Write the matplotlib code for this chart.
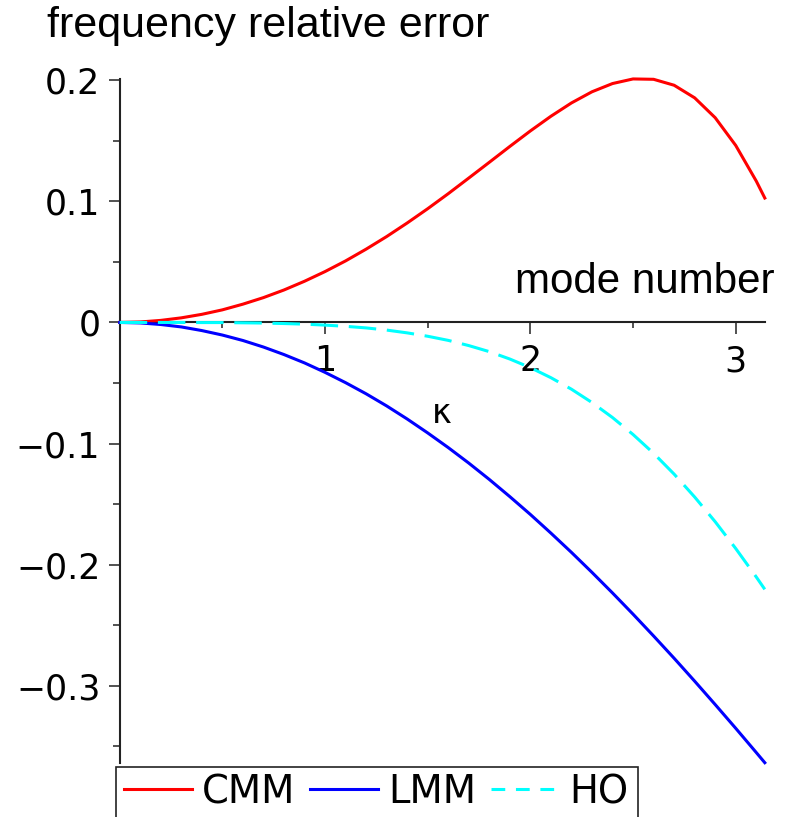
import numpy as np
import matplotlib
matplotlib.use("Agg")
import matplotlib.pyplot as plt
from matplotlib.lines import Line2D
from matplotlib.patches import Rectangle

# ---- data ----
kappa = [0.0, 0.1, 0.2, 0.3, 0.4, 0.5, 0.6, 0.7, 0.8, 0.9, 1.0, 1.1, 1.2, 1.3,
         1.4, 1.5, 1.6, 1.7, 1.8, 1.9, 2.0, 2.1, 2.2, 2.3, 2.4, 2.5, 2.6, 2.7,
         2.8, 2.9, 3.0, 3.1, 3.1416]
cmm = [0.0, 0.0004, 0.0017, 0.0038, 0.0067, 0.0104, 0.0151, 0.0205, 0.0268,
       0.0340, 0.0420, 0.0508, 0.0605, 0.0709, 0.0821, 0.0939, 0.1063, 0.1192,
       0.1322, 0.1453, 0.1581, 0.1702, 0.1812, 0.1904, 0.1972, 0.2010, 0.2007,
       0.1958, 0.1854, 0.1690, 0.1461, 0.1167, 0.1027]
lmm = [0.0, -0.0004, -0.0017, -0.0037, -0.0067, -0.0104, -0.0149, -0.0203,
       -0.0265, -0.0334, -0.0412, -0.0497, -0.0589, -0.0689, -0.0797, -0.0912,
       -0.1033, -0.1161, -0.1296, -0.1438, -0.1585, -0.1739, -0.1898, -0.2063,
       -0.2233, -0.2408, -0.2588, -0.2772, -0.2961, -0.3154, -0.3350, -0.3550,
       -0.3634]
ho = [0.0, 0.0, 0.0, 0.0, -0.0001, -0.0001, -0.0003, -0.0005, -0.0009,
      -0.0014, -0.0022, -0.0032, -0.0045, -0.0063, -0.0086, -0.0114, -0.0148,
      -0.0191, -0.0241, -0.0302, -0.0373, -0.0456, -0.0551, -0.0661, -0.0785,
      -0.0925, -0.1080, -0.1252, -0.1441, -0.1645, -0.1866, -0.2101, -0.2203]
series_names = ["CMM", "LMM", "HO"]
x_major = [1, 2, 3]
x_minor = [0.5, 1.5, 2.5]
y_major = [-0.3, -0.2, -0.1, 0.0, 0.1, 0.2]
y_major_labels = ["\u22120.3", "\u22120.2", "\u22120.1", "0", "0.1", "0.2"]
y_minor = [-0.35, -0.25, -0.15, -0.05, 0.05, 0.15]

W, H = 790, 817
fig = plt.figure(figsize=(W / 100, H / 100), dpi=100)
ax = fig.add_axes([119.7 / W, 1 - 762.7 / H, (764.8 - 119.7) / W, (762.7 - 78.7) / H])

lw = 2.2
ax.plot(kappa, cmm, color="#ff0000", lw=lw, clip_on=False, zorder=3)
ax.plot(kappa, lmm, color="#0000ff", lw=lw, clip_on=False, zorder=3)
ax.plot(kappa, ho, color="#00ffff", lw=lw, dashes=(9, 3.5), clip_on=False, zorder=3)

ax.set_xlim(0, np.pi)
ax.set_ylim(-0.3634, 0.2012)

for s in ["top", "right"]:
    ax.spines[s].set_visible(False)
ax.spines["left"].set_position(("data", 0))
ax.spines["bottom"].set_position(("data", 0))
for s in ["left", "bottom"]:
    ax.spines[s].set_color("#222222")
    ax.spines[s].set_linewidth(1.5)

ax.set_xticks(x_major)
ax.set_xticks(x_minor, minor=True)
ax.set_xticklabels([str(v) for v in x_major])
ax.set_yticks(y_major)
ax.set_yticks(y_minor, minor=True)
ax.set_yticklabels(y_major_labels)

for lab in ax.get_xticklabels() + ax.get_yticklabels():
    lab.set_fontfamily("DejaVu Sans")
    lab.set_fontsize(25)

ax.tick_params(axis="x", which="major", direction="out", length=8.6, width=1.1,
               color="#222222", pad=7)
ax.tick_params(axis="x", which="minor", direction="out", length=4.3, width=1.1,
               color="#222222")
ax.tick_params(axis="y", which="major", direction="out", length=8, width=1.1,
               color="#222222", pad=6)
ax.tick_params(axis="y", which="minor", direction="out", length=5, width=1.1,
               color="#222222")

# axis labels
fig.text(47 / W, 1 - 37 / H, "frequency relative error", family="Liberation Sans",
         size=31, ha="left", va="baseline")
fig.text(775 / W, 1 - 293 / H, "mode number", family="Liberation Sans",
         size=30.3, ha="right", va="baseline")
ax.text(np.pi / 2, -0.083, "\u03ba", family="DejaVu Sans", size=24,
        ha="center", va="baseline")

# legend
handles = [Line2D([], [], color="#ff0000", lw=lw),
           Line2D([], [], color="#0000ff", lw=lw),
           Line2D([], [], color="#00ffff", lw=lw, dashes=(4.5, 3.5))]
leg = fig.legend(handles, series_names, loc="center left",
                 bbox_to_anchor=(124 / W, 1 - 792 / H), ncol=3, frameon=False,
                 prop=dict(family="DejaVu Sans", size=27.8), borderpad=0,
                 borderaxespad=0, handlelength=1.76, handletextpad=0.26,
                 columnspacing=0.39)
fig.patches.append(Rectangle((116 / W, -0.1), (638 - 116) / W, 0.1 + (H - 767) / H,
                             transform=fig.transFigure, fill=False,
                             edgecolor="#222222", lw=1.2, clip_on=False))

fig.savefig("out.png", dpi=100)
